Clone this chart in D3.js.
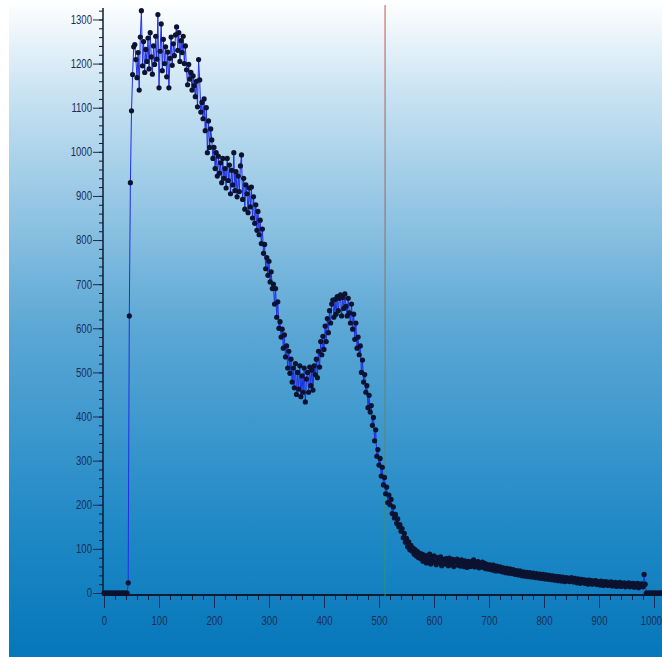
<!DOCTYPE html>
<html>
<head>
<meta charset="utf-8">
<script src="https://d3js.org/d3.v7.min.js"></script>
<style>
  body { margin: 0; background: #ffffff; }
  svg { display: block; }
  .tick text { font-family: "Liberation Sans", Arial, sans-serif; font-size: 12px; fill: #1b2c58; }
</style>
</head>
<body>
<script>
// channel spectrum, one value every 2 channels starting at 0
var firstChannel = 0;
var channelStep = 2;
var counts = [
  0,0,0,0,0,0,0,0,0,0,
  0,0,0,0,0,0,0,0,0,0,
  0,0,23,628,930,1093,1175,1238,1243,1209,
  1168,1225,1140,1260,1320,1195,1250,1180,1232,1205,
  1258,1188,1270,1215,1176,1240,1198,1262,1210,1311,
  1145,1228,1290,1184,1255,1200,1238,1170,1226,1145,
  1212,1260,1196,1245,1218,1265,1283,1230,1270,1205,
  1252,1225,1262,1200,1240,1186,1152,1198,1165,1180,
  1140,1172,1150,1125,1160,1102,1209,1163,1090,1112,
  1075,1120,1048,1100,998,1070,1010,1052,1027,985,
  1010,962,998,945,990,952,975,930,985,940,
  962,918,985,935,970,905,958,925,998,912,
  955,898,945,910,968,993,892,940,870,925,
  905,862,918,875,920,850,898,838,880,822,
  865,812,845,792,825,770,790,735,760,720,
  752,705,728,690,700,655,690,625,660,600,
  615,580,598,555,585,535,560,510,548,498,
  530,478,510,465,520,450,500,462,515,445,
  492,455,510,433,485,500,455,512,470,505,
  460,515,495,530,488,548,512,570,540,582,
  552,605,570,622,590,640,612,655,664,625,
  665,632,672,640,668,676,628,670,645,678,
  650,628,668,635,612,655,598,632,575,612,
  555,580,540,560,500,528,478,495,455,470,
  420,448,410,425,380,398,345,370,310,325,
  290,305,265,285,245,262,225,240,205,222,
  200,212,180,195,170,178,158,168,150,155,
  140,146,125,135,115,124,105,116,98,108,
  95,102,88,98,84,94,80,90,78,88,
  72,86,76,68,84,74,88,66,80,72,
  84,70,64,80,72,68,82,62,76,74,
  66,78,70,62,79,72,64,76,60,73,
  70,77,63,72,61,75,66,60,73,67,
  58,72,66,60,71,62,75,59,68,62,
  71,57,66,60,70,58,67,55,65,60,
  54,64,58,52,63,56,50,61,55,50,
  59,52,48,57,52,46,56,50,45,55,
  50,44,53,47,42,51,46,41,50,44,
  39,48,43,38,47,41,37,46,40,36,
  45,39,35,44,38,34,43,37,33,42,
  37,32,41,35,31,40,34,30,39,33,
  29,38,32,28,37,31,27,36,30,26,
  35,28,34,26,31,35,27,25,33,27,
  23,32,26,22,31,25,30,22,29,24,
  20,29,23,28,20,27,22,28,19,26,
  24,18,27,21,17,26,20,25,17,24,
  19,25,16,23,19,24,15,22,18,24,
  15,22,17,23,14,21,17,23,14,21,
  16,22,13,20,16,22,12,20,15,21,
  14,42,20,0,0,0,0,0,0,0,
  0,0,0,0,0,0,0,0,0,0,0,0
];
var xTicks = [0, 100, 200, 300, 400, 500, 600, 700, 800, 900, 1000];
var yTicks = [0, 100, 200, 300, 400, 500, 600, 700, 800, 900, 1000, 1100, 1200, 1300];
var cursorChannel = 511;

var width = 662;
var height = 657;
var squeeze = 0.8; // tick labels are drawn in a narrow face

var svg = d3.select("body")
  .append("svg")
  .attr("width", width)
  .attr("height", height);

var defs = svg.append("defs");

var bg = defs.append("linearGradient")
  .attr("id", "bg")
  .attr("x1", 0).attr("y1", 0).attr("x2", 0).attr("y2", 1);
bg.append("stop").attr("offset", "0%").attr("stop-color", "#ffffff");
bg.append("stop").attr("offset", "15%").attr("stop-color", "#c6e1f1");
bg.append("stop").attr("offset", "50%").attr("stop-color", "#5ba7d5");
bg.append("stop").attr("offset", "80%").attr("stop-color", "#2089c6");
bg.append("stop").attr("offset", "100%").attr("stop-color", "#0577ba");

var cur = defs.append("linearGradient")
  .attr("id", "cur")
  .attr("gradientUnits", "userSpaceOnUse")
  .attr("x1", 0).attr("y1", 5).attr("x2", 0).attr("y2", 596);
cur.append("stop").attr("offset", "0%").attr("stop-color", "#c8504e");
cur.append("stop").attr("offset", "55%").attr("stop-color", "#7f7a66");
cur.append("stop").attr("offset", "100%").attr("stop-color", "#2e9a52");

svg.append("rect")
  .attr("x", 9).attr("y", 0)
  .attr("width", width - 9).attr("height", height)
  .attr("fill", "url(#bg)");

var x = d3.scaleLinear().domain([0, 1000]).range([104, 654]);
var y = d3.scaleLinear().domain([0, 1326]).range([593, 8]);

var data = counts.map(function(c, i) {
  return { ch: firstChannel + i * channelStep, v: c };
});

// minor ticks
svg.append("g")
  .attr("transform", "translate(0,595)")
  .call(d3.axisBottom(x).tickValues(d3.range(0, 1021, 20)).tickSize(5).tickFormat(""))
  .call(function(g) { g.select(".domain").remove(); })
  .selectAll("line").attr("stroke", "#0d1b33");

svg.append("g")
  .attr("transform", "translate(103,0)")
  .call(d3.axisLeft(y).tickValues(d3.range(0, 1321, 20)).tickSize(4).tickFormat(""))
  .call(function(g) { g.select(".domain").remove(); })
  .selectAll("line").attr("stroke", "#0d1b33");

// major ticks + labels
var xAxis = svg.append("g")
  .attr("transform", "translate(0,595)")
  .call(d3.axisBottom(x).tickValues(xTicks).tickSize(13).tickPadding(8).tickFormat(d3.format("d")));
xAxis.select(".domain").remove();
xAxis.selectAll("line").attr("stroke", "#1b2c58");
xAxis.selectAll("text")
  .attr("x", function(d) { return d === 1000 ? -3 / squeeze : 0; })
  .attr("transform", "scale(" + squeeze + ",1)");

var yAxis = svg.append("g")
  .attr("transform", "translate(103,0)")
  .call(d3.axisLeft(y).tickValues(yTicks).tickSize(10).tickPadding(1).tickFormat(d3.format("d")));
yAxis.select(".domain").remove();
yAxis.selectAll("line").attr("stroke", "#1b2c58");
yAxis.selectAll("text")
  .attr("x", -11 / squeeze)
  .attr("transform", "scale(" + squeeze + ",1)");

// axis lines
svg.append("line")
  .attr("x1", 103).attr("x2", width)
  .attr("y1", 595).attr("y2", 595)
  .attr("stroke", "#0d1b33").attr("stroke-width", 2);
svg.append("line")
  .attr("x1", 103).attr("x2", 103)
  .attr("y1", 8).attr("y2", 596)
  .attr("stroke", "#0d1b33").attr("stroke-width", 1.5);

// cursor line
svg.append("line")
  .attr("x1", x(cursorChannel)).attr("x2", x(cursorChannel))
  .attr("y1", 5).attr("y2", 596)
  .attr("stroke", "url(#cur)").attr("stroke-width", 1);

var line = d3.line()
  .x(function(d) { return x(d.ch); })
  .y(function(d) { return y(d.v); });

svg.append("path")
  .datum(data)
  .attr("fill", "none")
  .attr("stroke", "#1f2fe6")
  .attr("stroke-width", 1)
  .attr("d", line);

svg.append("g")
  .selectAll("circle")
  .data(data)
  .enter()
  .append("circle")
  .attr("cx", function(d) { return x(d.ch); })
  .attr("cy", function(d) { return y(d.v); })
  .attr("r", 2.6)
  .attr("fill", "#0b1330");
</script>
</body>
</html>
